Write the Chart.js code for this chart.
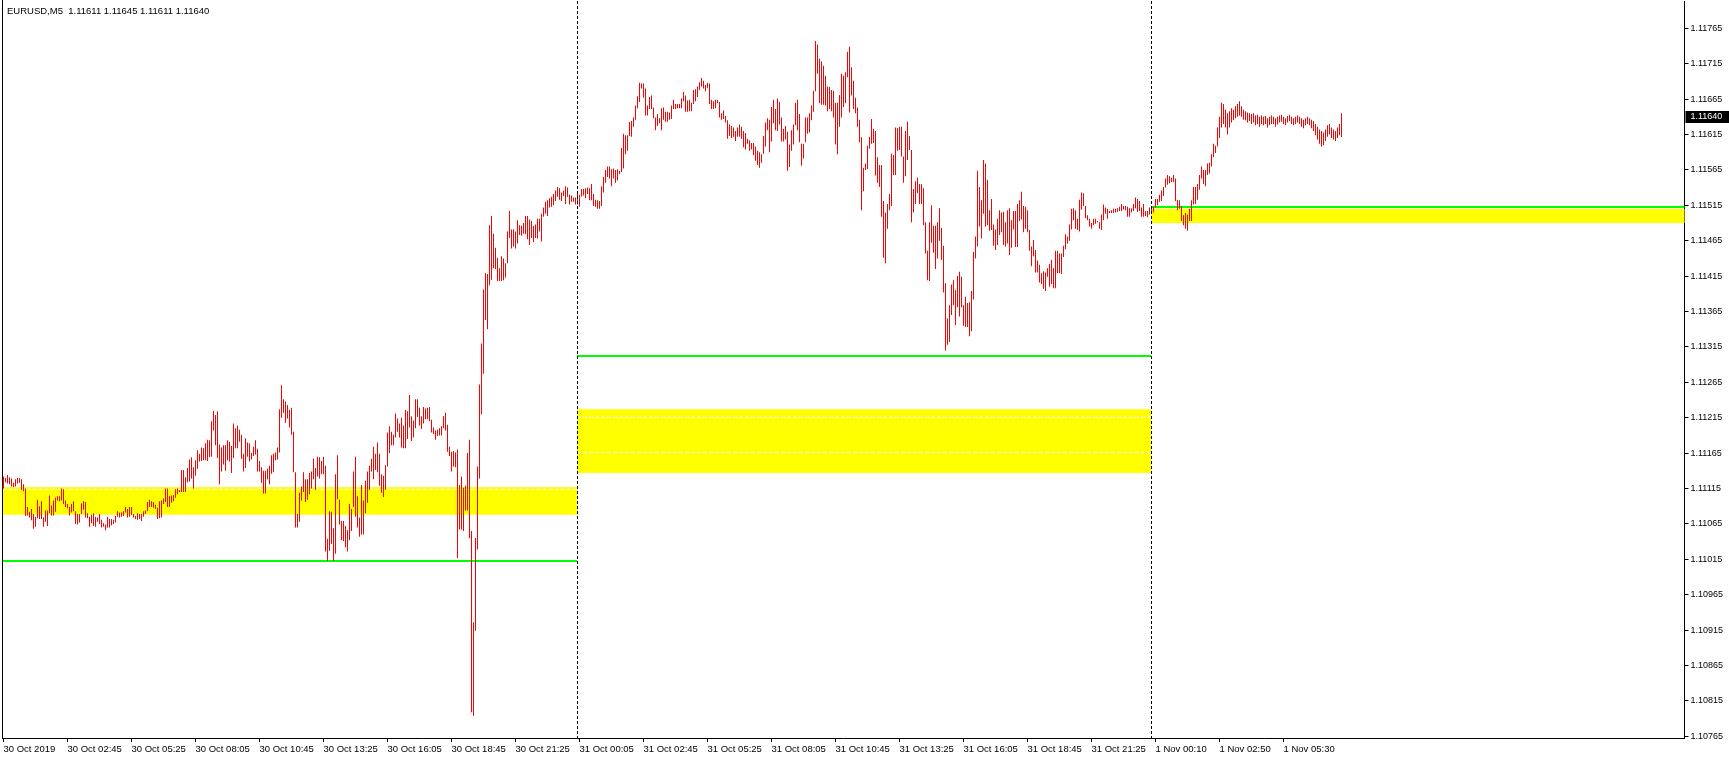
<!DOCTYPE html>
<html>
<head>
<meta charset="utf-8">
<title>EURUSD,M5</title>
<script src="https://cdn.jsdelivr.net/npm/chart.js@4.4.1/dist/chart.umd.min.js"></script>
<style>
  html, body { margin: 0; padding: 0; background: #fff; }
  #wrap { width: 1729px; height: 760px; }
</style>
</head>
<body>
<div id="wrap"><canvas id="chart" width="1729" height="760"></canvas></div>
<script>
// EURUSD M5 bars, 30 Oct 2019 00:05 -> 1 Nov 2019
// prices kept as points above 1.10000 (1132 -> 1.11132)

const highs = [
  // 30 Oct
  1132,1130,1134,1131,1129,1123,1128,1130,1130,1128,1121,1115,
  1089,1082,1086,1079,1075,1099,1090,1097,1074,1084,1084,1105,
  1091,1098,1102,1104,1104,1115,1114,1098,1093,1089,1093,1097,
  1083,1079,1079,1094,1097,1096,1080,1075,1078,1080,1075,1074,
  1079,1071,1066,1064,1075,1072,1072,1071,1076,1083,1081,1081,
  1083,1089,1086,1089,1089,1079,1076,1080,1079,1079,1083,1084,
  1096,1099,1097,1096,1092,1088,1097,1098,1101,1115,1115,1104,
  1105,1106,1114,1115,1113,1141,1141,1131,1144,1156,1159,1145,
  1155,1169,1164,1173,1172,1179,1184,1183,1210,1225,1219,1224,
  1177,1173,1176,1176,1183,1181,1175,1207,1200,1204,1198,1191,
  1164,1186,1180,1179,1165,1174,1183,1171,1154,1145,1140,1140,
  1143,1147,1162,1164,1166,1173,1227,1261,1241,1238,1233,1226,
  1229,1195,1138,1079,1109,1118,1138,1128,1128,1137,1139,1157,
  1144,1160,1159,1154,1160,1147,1044,1083,1082,1059,1135,1162,
  1099,1069,1069,1062,1056,1093,1086,1139,1160,1104,1074,1120,
  1098,1126,1139,1147,1157,1174,1164,1180,1164,1135,1133,1148,
  1194,1203,1195,1191,1221,1214,1207,1215,1204,1226,1224,1247,
  1217,1211,1241,1241,1229,1217,1230,1228,1229,1230,1212,1201,
  1197,1198,1200,1203,1217,1222,1205,1174,1167,1168,1166,1170,
  1120,1132,1116,1119,1165,1184,1055,926,1045,1146,1262,1320,
  1396,1419,1418,1487,1500,1475,1455,1441,1426,1443,1440,1433,
  1478,1507,1481,1481,1478,1494,1487,1486,1490,1500,1500,1495,
  1493,1486,1488,1496,1496,1503,1512,1520,1522,1525,1527,1531,
  1536,1541,1539,1533,1536,1542,1540,1530,1529,1526,1526,1531,
  // 31 Oct
  1530,1538,1538,1539,1540,1539,1545,1531,1523,1522,1521,1542,
  1555,1565,1570,1570,1566,1567,1565,1566,1564,1596,1616,1614,
  1614,1633,1634,1639,1656,1669,1688,1687,1687,1680,1656,1668,
  1670,1653,1639,1644,1638,1652,1653,1647,1647,1646,1656,1664,
  1658,1658,1658,1666,1675,1670,1663,1664,1660,1678,1679,1683,
  1689,1695,1691,1685,1688,1687,1664,1662,1664,1664,1661,1645,
  1649,1641,1635,1629,1627,1625,1620,1625,1629,1626,1620,1617,
  1609,1607,1603,1603,1598,1592,1590,1587,1613,1632,1638,1636,
  1654,1664,1651,1666,1661,1639,1623,1627,1619,1601,1621,1629,
  1660,1664,1644,1602,1602,1639,1639,1645,1656,1677,1747,1742,
  1722,1718,1712,1698,1683,1682,1678,1677,1660,1660,1671,1701,
  1698,1703,1732,1739,1710,1691,1667,1653,1636,1611,1568,1574,
  1599,1612,1637,1623,1620,1583,1572,1572,1521,1505,1517,1531,
  1588,1586,1625,1624,1626,1626,1584,1620,1633,1613,1593,1538,
  1549,1554,1545,1545,1539,1491,1451,1491,1515,1486,1486,1491,
  1511,1483,1458,1405,1355,1374,1403,1409,1395,1415,1421,1414,
  1374,1386,1377,1378,1394,1449,
  1471,1564,1541,1522,1579,1574,1551,1508,1524,1488,1481,1496,
  1508,1505,1506,1491,1508,1511,1494,1507,1507,1517,1522,1534,
  1514,1513,1508,1480,1457,1466,1452,1437,1431,1419,1422,1420,
  1426,1432,1438,1426,1451,1451,1447,1447,1458,1474,1471,1488,
  1510,1511,1508,1496,1523,1533,1532,1514,1501,1496,1490,1496,
  1496,1493,1491,1502,1516,1512,1510,1507,1508,1510,1510,1511,
  1513,1517,1514,1514,1513,1511,1511,1517,1526,1524,1521,1512,
  1517,1507,1507,1512,1512,
  // 1 Nov
  1513,1524,1524,1530,1536,1541,1553,
  1558,1556,1554,1558,1553,1523,1522,1514,1501,1504,1502,1510,
  1522,1541,1541,1545,1558,1570,1565,1565,1574,1575,1587,1602,
  1599,1625,
  1640,1660,1658,1650,1645,1648,1652,1650,1655,1658,1662,1655,
  1650,1648,1646,1645,1644,1645,1642,1643,1640,1642,1640,1641,
  1638,1640,1642,1640,1638,1640,1642,1643,1640,1638,1641,1643,
  1640,1638,1640,1642,1640,1638,1636,1638,1640,1638,1636,1634,
  1630,1626,1622,1620,1618,1622,1628,1630,1625,1622,1620,1625,1630,1645
];

const lows = [
  // 30 Oct
  1115,1124,1122,1121,1118,1117,1118,1122,1123,1113,1111,1076,
  1077,1074,1070,1058,1061,1073,1072,1072,1061,1068,1062,1080,
  1077,1077,1082,1098,1097,1098,1093,1089,1087,1077,1081,1083,
  1065,1064,1067,1079,1085,1074,1073,1061,1066,1062,1061,1068,
  1065,1060,1061,1056,1060,1060,1063,1065,1067,1075,1074,1075,
  1076,1081,1074,1075,1078,1074,1072,1071,1072,1069,1075,1079,
  1083,1089,1089,1088,1086,1072,1073,1074,1093,1096,1089,1089,
  1095,1097,1102,1107,1110,1110,1110,1110,1124,1125,1129,1115,
  1133,1143,1153,1154,1155,1155,1154,1159,1160,1197,1176,1158,
  1121,1139,1149,1140,1155,1153,1137,1158,1172,1172,1181,1157,
  1139,1144,1160,1153,1156,1161,1163,1139,1139,1123,1108,1108,
  1128,1121,1136,1138,1155,1156,1166,1215,1222,1208,1214,1201,
  1191,1138,1060,1060,1068,1098,1110,1096,1099,1107,1115,1128,
  1113,1132,1129,1135,1135,1026,1013,1027,1037,1013,1023,1100,
  1064,1042,1041,1032,1026,1042,1055,1089,1075,1060,1047,1050,
  1050,1080,1095,1113,1139,1128,1141,1138,1119,1109,1103,1113,
  1146,1165,1176,1176,1187,1195,1187,1173,1172,1172,1185,1201,
  1182,1187,1200,1216,1204,1199,1207,1213,1213,1210,1194,1192,
  1184,1189,1190,1190,1200,1197,1167,1161,1139,1146,1145,1017,
  1057,1057,1055,1084,1084,1045,799,794,914,1029,1129,1220,
  1277,1353,1340,1402,1410,1426,1425,1408,1408,1408,1409,1413,
  1433,1469,1454,1457,1454,1461,1473,1472,1475,1474,1467,1459,
  1469,1463,1469,1468,1478,1464,1499,1503,1500,1512,1513,1515,
  1521,1527,1523,1521,1528,1517,1527,1516,1520,1520,1516,1516,
  // 31 Oct
  1513,1527,1529,1525,1531,1522,1522,1514,1513,1510,1510,1514,
  1533,1547,1555,1553,1542,1553,1547,1550,1559,1562,1567,1587,
  1592,1613,1612,1626,1636,1652,1661,1680,1667,1642,1642,1651,
  1651,1638,1621,1627,1631,1621,1636,1633,1633,1636,1637,1651,
  1651,1652,1652,1652,1662,1647,1647,1648,1648,1658,1662,1668,
  1678,1683,1680,1676,1681,1658,1651,1651,1652,1659,1639,1636,
  1637,1632,1609,1613,1610,1612,1606,1612,1612,1609,1597,1594,
  1602,1592,1594,1586,1578,1572,1568,1575,1588,1598,1621,1590,
  1605,1631,1621,1620,1629,1605,1605,1608,1564,1569,1592,1601,
  1628,1621,1604,1571,1581,1604,1616,1618,1635,1647,1676,1701,
  1659,1657,1657,1656,1648,1651,1648,1639,1601,1587,1626,1639,
  1654,1659,1696,1646,1670,1651,1645,1626,1604,1508,1535,1565,
  1566,1595,1602,1603,1557,1547,1541,1499,1441,1433,1482,1508,
  1514,1558,1558,1592,1593,1584,1547,1556,1579,1593,1491,1505,
  1517,1532,1517,1517,1487,1447,1409,1408,1462,1448,1425,1440,
  1465,1438,1392,1310,1318,1322,1360,1374,1346,1371,1358,1371,
  1345,1343,1343,1330,1337,1382,
  1440,1457,1485,1468,1503,1485,1487,1479,1480,1458,1452,1459,
  1473,1477,1459,1457,1461,1445,1455,1481,1456,1456,1493,1495,
  1477,1482,1477,1451,1429,1443,1420,1420,1406,1404,1397,1394,
  1414,1400,1404,1398,1398,1419,1419,1418,1442,1453,1461,1465,
  1481,1494,1482,1480,1478,1509,1514,1497,1494,1485,1482,1487,
  1489,1491,1482,1480,1494,1503,1496,1504,1504,1504,1505,1506,
  1507,1507,1509,1508,1499,1499,1505,1507,1511,1506,1507,1499,
  1499,1500,1498,1502,1504,
  // 1 Nov
  1505,1512,1515,1520,1521,1528,1540,
  1544,1546,1548,1548,1521,1508,1510,1493,1487,1482,1479,1493,
  1493,1516,1517,1523,1537,1553,1545,1542,1558,1560,1570,1583,
  1589,1598,
  1610,1625,1630,1625,1615,1625,1632,1635,1638,1640,1642,1640,
  1636,1635,1632,1634,1630,1632,1628,1630,1626,1630,1628,1630,
  1625,1628,1630,1630,1626,1629,1632,1633,1630,1628,1632,1634,
  1630,1628,1630,1632,1630,1626,1624,1628,1630,1628,1624,1620,
  1614,1608,1602,1598,1600,1606,1612,1615,1610,1608,1606,1610,1614,1611
];

// last bar O H L C for the header line and price tag
const lastOHLC = [1.11611, 1.11645, 1.11611, 1.11640];

// time axis labels, one every 32 bars
const tickBars = [0, 32, 64, 96, 128, 160, 192, 224, 256, 288, 320, 352, 384, 416, 448, 480, 512, 544, 576, 608, 640];
const tickText = [
  '30 Oct 2019', '30 Oct 02:45', '30 Oct 05:25', '30 Oct 08:05', '30 Oct 10:45', '30 Oct 13:25',
  '30 Oct 16:05', '30 Oct 18:45', '30 Oct 21:25', '31 Oct 00:05', '31 Oct 02:45', '31 Oct 05:25',
  '31 Oct 08:05', '31 Oct 10:45', '31 Oct 13:25', '31 Oct 16:05', '31 Oct 18:45', '31 Oct 21:25',
  '1 Nov 00:10', '1 Nov 02:50', '1 Nov 05:30'
];

// price axis labels
const priceTicks = [
  1.10765, 1.10815, 1.10865, 1.10915, 1.10965, 1.11015, 1.11065, 1.11115, 1.11165, 1.11215, 1.11265,
  1.11315, 1.11365, 1.11415, 1.11465, 1.11515, 1.11565, 1.11615, 1.11665, 1.11715, 1.11765
];

// daily zones (points above 1.10000), one entry per day
const dayStart  = [0, 287, 574];
const zoneHigh  = [1117, 1227, 1510];
const zoneLow   = [1078, 1137, 1490];
const zoneDash  = [[1115], [1216, 1167], []];
const greenLine = [1012, 1302, 1512];

const slots = 841; // bar slots incl. the empty space on the right
const toPrice = p => 1.1 + p / 100000;

const labels = Array.from({ length: slots }, (_, i) => i);
const ranges = labels.map(i => i < highs.length ? [toPrice(lows[i]), toPrice(highs[i])] : null);

const FONT = { family: "'Liberation Sans', Arial, sans-serif", size: 9.5 };
const fontStr = '9.5px "Liberation Sans", Arial, sans-serif';

// zones, support lines and day separators
const levels = {
  id: 'levels',
  beforeDatasetsDraw(chart) {
    const { ctx, chartArea: a, scales: { x, y } } = chart;
    const edge = i => i === 0 ? a.left : Math.floor(x.getPixelForValue(i));
    ctx.save();
    for (let d = 0; d < dayStart.length; d++) {
      const x0 = edge(dayStart[d]);
      const x1 = d + 1 < dayStart.length ? edge(dayStart[d + 1]) : a.right;
      const yt = y.getPixelForValue(toPrice(zoneHigh[d]));
      const yb = y.getPixelForValue(toPrice(zoneLow[d]));
      ctx.fillStyle = '#ffff00';
      ctx.fillRect(x0, yt, x1 - x0, yb - yt);

      ctx.strokeStyle = '#ffffff';
      ctx.lineWidth = 1;
      ctx.setLineDash([4, 2]);
      zoneDash[d].forEach(p => {
        const yy = Math.round(y.getPixelForValue(toPrice(p))) + 0.5;
        ctx.beginPath(); ctx.moveTo(x0, yy); ctx.lineTo(x1, yy); ctx.stroke();
      });

      ctx.setLineDash([]);
      ctx.strokeStyle = '#00ff00';
      ctx.lineWidth = 2;
      const yg = Math.round(y.getPixelForValue(toPrice(greenLine[d])));
      ctx.beginPath(); ctx.moveTo(x0, yg); ctx.lineTo(x1, yg); ctx.stroke();
    }
    ctx.restore();
  },
  afterDatasetsDraw(chart) {
    const { ctx, chartArea: a, scales: { x } } = chart;
    ctx.save();
    ctx.strokeStyle = '#000';
    ctx.lineWidth = 1;
    ctx.setLineDash([3, 2]);
    dayStart.slice(1).forEach(i => {
      const xx = Math.floor(x.getPixelForValue(i)) + 0.5;
      ctx.beginPath(); ctx.moveTo(xx, a.top); ctx.lineTo(xx, a.bottom); ctx.stroke();
    });
    ctx.restore();
  },
  afterDraw(chart) {
    const { ctx, chartArea: a, scales: { y } } = chart;
    ctx.save();
    // left frame line
    ctx.strokeStyle = '#000';
    ctx.lineWidth = 1;
    ctx.beginPath(); ctx.moveTo(Math.floor(a.left) + 0.5, 0); ctx.lineTo(Math.floor(a.left) + 0.5, a.bottom); ctx.stroke();

    // header
    ctx.font = fontStr;
    ctx.fillStyle = '#000';
    ctx.textBaseline = 'middle';
    ctx.fillText('EURUSD,M5  ' + lastOHLC.map(v => v.toFixed(5)).join(' '), 7, 11);

    // current price tag
    const yc = Math.round(y.getPixelForValue(lastOHLC[3]));
    ctx.fillStyle = '#000';
    ctx.fillRect(a.right + 1, yc - 6, chart.width - a.right - 1, 12);
    ctx.fillStyle = '#fff';
    ctx.font = '9px "Liberation Sans", Arial, sans-serif';
    ctx.fillText(lastOHLC[3].toFixed(5), a.right + 6, yc);
    ctx.restore();
  }
};

new Chart(document.getElementById('chart'), {
  type: 'bar',
  data: {
    labels: labels,
    datasets: [{
      data: ranges,
      backgroundColor: '#ff0000',
      borderWidth: 0,
      barThickness: 1,
      inflateAmount: 0
    }]
  },
  options: {
    responsive: false,
    animation: false,
    devicePixelRatio: 1,
    layout: { padding: { left: 2.5, top: 1, right: 0, bottom: 0 } },
    plugins: { legend: { display: false }, tooltip: { enabled: false } },
    scales: {
      x: {
        type: 'category',
        offset: true,
        grid: { display: true, offset: false, drawOnChartArea: false, drawTicks: true, tickLength: 4, color: '#000' },
        border: { display: true, color: '#000' },
        ticks: {
          autoSkip: false, maxRotation: 0, minRotation: 0, align: 'start', padding: 2,
          color: '#000', font: FONT,
          callback: (v) => tickText[tickBars.indexOf(v)]
        },
        afterBuildTicks: axis => { axis.ticks = tickBars.map(v => ({ value: v })); },
        afterFit: axis => { axis.height = 22; axis.paddingLeft = 0; axis.paddingRight = 0; }
      },
      y: {
        type: 'linear',
        position: 'right',
        min: 1.107626,
        max: 1.118036,
        grid: { display: true, drawOnChartArea: false, drawTicks: true, tickLength: 4, color: '#000' },
        border: { display: true, color: '#000' },
        ticks: { padding: 2, color: '#000', font: { family: FONT.family, size: 9 }, callback: v => v.toFixed(5) },
        afterBuildTicks: axis => { axis.ticks = priceTicks.map(v => ({ value: v })); },
        afterFit: axis => { axis.width = 44.5; axis.paddingTop = 0; axis.paddingBottom = 0; }
      }
    }
  },
  plugins: [levels]
});
</script>
</body>
</html>
